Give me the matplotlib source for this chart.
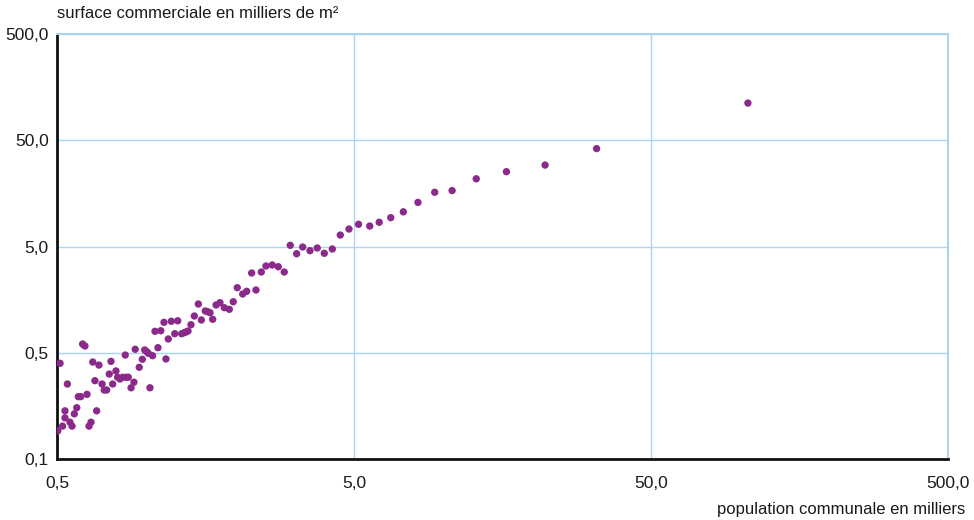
import matplotlib
matplotlib.use("Agg")
import matplotlib.pyplot as plt
from matplotlib import font_manager

# population communale (milliers) et surface commerciale (milliers de m2)
population = [
    0.503, 0.512, 0.522, 0.532, 0.532, 0.542, 0.553, 0.562, 0.572, 0.583,
    0.590, 0.601, 0.610, 0.621, 0.631, 0.641, 0.651, 0.660, 0.671, 0.680,
    0.692, 0.709, 0.721, 0.735, 0.750, 0.760, 0.770, 0.790, 0.800, 0.815,
    0.832, 0.854, 0.869, 0.849, 0.888, 0.908, 0.917, 0.946, 0.969, 0.987,
    1.003, 1.015, 1.028, 1.049, 1.094, 1.069, 1.118, 1.164, 1.146, 1.185,
    1.213, 1.275, 1.246, 1.315, 1.339, 1.359, 1.381, 1.413, 1.450, 1.496,
    1.531, 1.579, 1.609, 1.638, 1.672, 1.716, 1.769, 1.830, 1.902, 1.961,
    2.023, 2.110, 2.176, 2.262, 2.339, 2.437, 2.527, 2.653, 2.780, 2.912,
    3.051, 3.206, 3.359, 3.555, 3.761, 3.972, 4.227, 4.497, 4.810, 5.18,
    5.65, 6.08, 6.65, 7.33, 8.21, 9.35, 10.7, 12.9, 16.3, 22.0,
    32.8, 106.0,
]
surface = [
    0.092, 0.398, 0.102, 0.142, 0.122, 0.254, 0.111, 0.102, 0.133, 0.152,
    0.193, 0.193, 0.604, 0.579, 0.203, 0.102, 0.111, 0.409, 0.273, 0.142,
    0.383, 0.254, 0.223, 0.223, 0.315, 0.415, 0.254, 0.337, 0.294, 0.283,
    0.294, 0.294, 0.294, 0.476, 0.234, 0.264, 0.539, 0.365, 0.434, 0.531,
    0.511, 0.494, 0.234, 0.469, 0.558, 0.796, 0.806, 0.437, 0.967, 0.674,
    0.989, 1.00, 0.756, 0.756, 0.772, 0.784, 0.801, 0.918, 1.109, 1.438,
    1.017, 1.236, 1.217, 1.191, 1.032, 1.407, 1.479, 1.327, 1.282, 1.511,
    2.048, 1.786, 1.894, 2.816, 1.948, 2.877, 3.277, 3.349, 3.228, 2.877,
    5.13, 4.278, 4.946, 4.565, 4.84, 4.315, 4.737, 6.41, 7.30, 8.09,
    7.79, 8.45, 9.34, 10.6, 13.0, 16.2, 16.8, 21.7, 25.3, 29.2,
    41.7, 112.0,
]

x_ticks = [0.5, 5, 50, 500]
x_labels = ["0,5", "5,0", "50,0", "500,0"]
y_ticks = [0.05, 0.5, 5, 50, 500]
y_labels = ["0,1", "0,5", "5,0", "50,0", "500,0"]

names = {f.name for f in font_manager.fontManager.ttflist}
narrow = "Liberation Sans Narrow" if "Liberation Sans Narrow" in names else "Liberation Sans"
plt.rcParams["font.family"] = [narrow, "DejaVu Sans"]

grid_blue = "#a9d5f2"
purple = "#8c2a8c"

fig = plt.figure(figsize=(9.74, 5.20), dpi=100)
ax = fig.add_axes([0.0585, 0.1173, 0.9148, 0.8173])

ax.scatter(population, surface, s=28, color=purple, edgecolors="none", zorder=3)

ax.set_xscale("log")
ax.set_yscale("log")
ax.set_xlim(0.5, 500)
ax.set_ylim(0.05, 500)
ax.minorticks_off()
ax.set_xticks(x_ticks)
ax.set_xticklabels(x_labels)
ax.set_yticks(y_ticks)
ax.set_yticklabels(y_labels)
ax.tick_params(length=0, labelsize=12.5, colors="#1a1a1a")
ax.tick_params(axis="x", pad=12)
ax.tick_params(axis="y", pad=6)

ax.grid(True, color=grid_blue, linewidth=1.0, zorder=0)
for side in ["top", "right"]:
    ax.spines[side].set_color(grid_blue)
    ax.spines[side].set_linewidth(1.5)
for side in ["left", "bottom"]:
    ax.spines[side].set_color("#111111")
    ax.spines[side].set_linewidth(2)

fig.text(0.0585, 0.988, "surface commerciale en milliers de m²", fontsize=12,
         ha="left", va="top", color="#1a1a1a")
fig.text(0.991, 0.005, "population communale en milliers", fontsize=12,
         ha="right", va="bottom", color="#1a1a1a")

fig.savefig("out.png", dpi=100)
